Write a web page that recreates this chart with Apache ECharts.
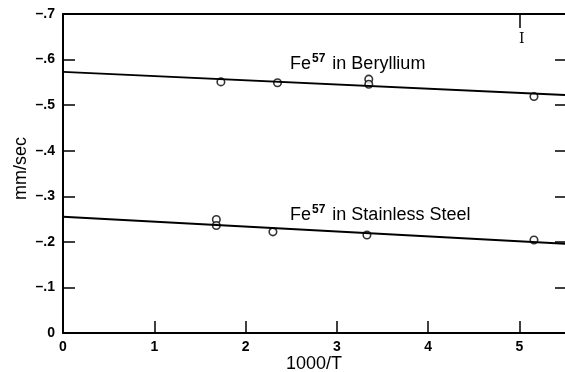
<!DOCTYPE html>
<html>
<head>
<meta charset="utf-8">
<script src="https://cdn.jsdelivr.net/npm/echarts@6/dist/echarts.min.js"></script>
<style>
  html, body { margin: 0; padding: 0; background: #fff; }
  #chartDom { width: 565px; height: 372px; }
</style>
</head>
<body>
<div id="chartDom"></div>
<script>
// 数据点 (1000/T, mm/sec)
const beX = [1.73, 2.35, 3.35, 3.35, 5.16];
const beY = [-0.551, -0.549, -0.557, -0.546, -0.519];
const ssX = [1.68, 1.68, 2.30, 3.33, 5.16];
const ssY = [-0.249, -0.236, -0.222, -0.215, -0.204];
// 拟合直线两端
const beFitX = [0, 5.5];
const beFitY = [-0.573, -0.522];
const ssFitX = [0, 5.5];
const ssFitY = [-0.255, -0.196];
const xTicks = [0, 1, 2, 3, 4, 5];
const topTick = [5];

const pair = (xs, ys) => xs.map((x, i) => [x, ys[i]]);
const FONT = '"Liberation Sans", Arial, sans-serif';

let chart = echarts.init(document.getElementById('chartDom'));
chart.setOption({
  animation: false,
  textStyle: { fontFamily: FONT, color: '#000' },
  grid: { left: 63, right: 0, top: 14, bottom: 39, outerBoundsMode: 'none', containLabel: false },
  xAxis: [
    {
      type: 'value', min: 0, max: 5.5, interval: 1,
      name: '1000/T', nameLocation: 'middle', nameGap: 22, nameMoveOverlap: false,
      nameTextStyle: { fontSize: 18, color: '#000', fontFamily: FONT },
      axisLine: { onZero: false, lineStyle: { color: '#000', width: 2 } },
      axisTick: { inside: true, length: 12, lineStyle: { color: '#000', width: 1.5 }, customValues: xTicks },
      axisLabel: {
        fontSize: 14, fontWeight: 'bold', color: '#000', margin: 7,
        formatter: v => (Number.isInteger(v) ? String(v) : '')
      },
      splitLine: { show: false }
    },
    {
      type: 'value', position: 'top', min: 0, max: 5.5, interval: 1,
      axisLine: { show: true, onZero: false, lineStyle: { color: '#000', width: 2 } },
      axisTick: { inside: true, length: 14, lineStyle: { color: '#000', width: 1.5 }, customValues: topTick },
      axisLabel: { show: false },
      splitLine: { show: false }
    }
  ],
  yAxis: [
    {
      type: 'value', min: -0.7, max: 0, interval: 0.1, inverse: true,
      name: 'mm/sec', nameLocation: 'middle', nameGap: 33, nameRotate: 90, nameMoveOverlap: false,
      nameTextStyle: { fontSize: 18, color: '#000', fontFamily: FONT, padding: [0, 0, 0, 10] },
      axisLine: { show: true, onZero: false, lineStyle: { color: '#000', width: 2 } },
      axisTick: { inside: true, length: 12, lineStyle: { color: '#000', width: 1.5 } },
      axisLabel: {
        fontSize: 14, fontWeight: 'bold', color: '#000', margin: 8,
        formatter: v => {
          const n = Math.round(v * 10);
          return n === 0 ? '0' : '\u2013.' + Math.abs(n);
        }
      },
      splitLine: { show: false }
    },
    {
      type: 'value', position: 'right', min: -0.7, max: 0, interval: 0.1, inverse: true,
      axisLine: { show: false, onZero: false },
      axisTick: { show: true, inside: true, length: 10, lineStyle: { color: '#000', width: 1.5 } },
      axisLabel: { show: false },
      splitLine: { show: false }
    }
  ],
  series: [
    {
      type: 'line', data: pair(beFitX, beFitY), symbol: 'none',
      lineStyle: { color: '#000', width: 2 }
    },
    {
      type: 'line', data: pair(ssFitX, ssFitY), symbol: 'none',
      lineStyle: { color: '#000', width: 2 }
    },
    {
      type: 'scatter', data: pair(beX, beY), symbol: 'circle', symbolSize: 7.5,
      itemStyle: { color: '#fff', borderColor: '#000', borderWidth: 1.6 }
    },
    {
      type: 'scatter', data: pair(ssX, ssY), symbol: 'circle', symbolSize: 7.5,
      itemStyle: { color: '#fff', borderColor: '#000', borderWidth: 1.6 }
    }
  ],
  graphic: [
    {
      type: 'text', left: 290, top: 53,
      style: {
        text: 'Fe{sup|57} in Beryllium',
        font: '18px ' + FONT, fill: '#000',
        rich: { sup: { fontSize: 12, fontWeight: 'bold', fontFamily: FONT, padding: [0, 2, 10, 1] } }
      }
    },
    {
      type: 'text', left: 290, top: 204,
      style: {
        text: 'Fe{sup|57} in Stainless Steel',
        font: '18px ' + FONT, fill: '#000',
        rich: { sup: { fontSize: 12, fontWeight: 'bold', fontFamily: FONT, padding: [0, 2, 10, 1] } }
      }
    },
    {
      type: 'text', left: 519, top: 32,
      style: { text: 'I', font: '14px "DejaVu Serif", serif', fill: '#000' }
    }
  ]
});
</script>
</body>
</html>
